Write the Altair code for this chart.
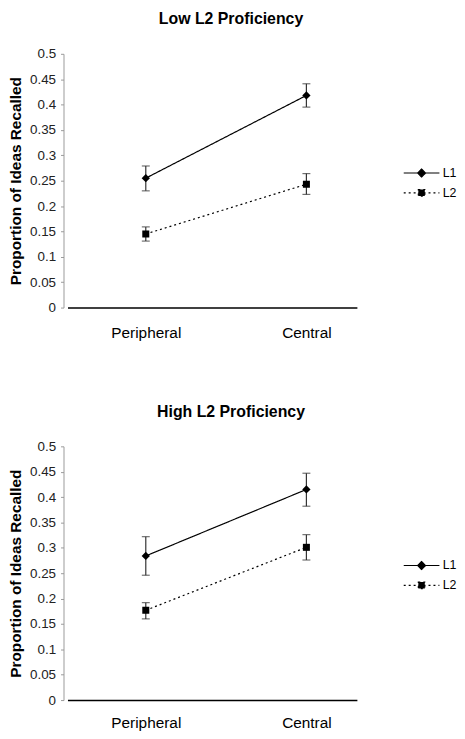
import altair as alt
import pandas as pd

# ---- data ----
categories = ["Peripheral", "Central"]
series = ["L1", "L2"]
panel_titles = ["Low L2 Proficiency", "High L2 Proficiency"]

low_l1_mean = [0.255, 0.418]
low_l1_lo = [0.230, 0.395]
low_l1_hi = [0.279, 0.441]
low_l2_mean = [0.145, 0.243]
low_l2_lo = [0.131, 0.223]
low_l2_hi = [0.159, 0.264]

high_l1_mean = [0.284, 0.415]
high_l1_lo = [0.246, 0.382]
high_l1_hi = [0.322, 0.447]
high_l2_mean = [0.177, 0.301]
high_l2_lo = [0.160, 0.276]
high_l2_hi = [0.192, 0.326]

y_ticks = [0, 0.05, 0.1, 0.15, 0.2, 0.25, 0.3, 0.35, 0.4, 0.45, 0.5]

FONT = "Liberation Sans"


def make_df(l1m, l1lo, l1hi, l2m, l2lo, l2hi):
    rows = []
    for s, m, lo, hi in [("L1", l1m, l1lo, l1hi), ("L2", l2m, l2lo, l2hi)]:
        for i, c in enumerate(categories):
            rows.append({"Location": c, "Series": s, "Mean": m[i], "Lo": lo[i], "Hi": hi[i]})
    return pd.DataFrame(rows)


# legend glyphs: a 36px line with the marker in its middle (unit = 5px at symbolSize 100)
L1_PATH = "M-3.6,0L3.6,0M0,-0.8L0.8,0L0,0.8L-0.8,0Z"
L2_PATH = "M-3.6,0L3.6,0M-0.65,-0.65L0.65,-0.65L0.65,0.65L-0.65,0.65Z"


def panel(df, title, x_label_pad):
    x = alt.X(
        "Location:N",
        sort=categories,
        scale=alt.Scale(type="point", padding=0.401, align=0.608),
        axis=alt.Axis(
            title=None, labelAngle=0, ticks=False, domainColor="black",
            domainWidth=1.5, labelFontSize=15.5, labelPadding=x_label_pad,
            labelColor="black", labelFont=FONT,
        ),
    )
    yaxis = alt.Axis(
        title="Proportion of Ideas Recalled", values=y_ticks, format=".2~f",
        grid=False, domainColor="#9a9a9a", tickColor="#9a9a9a", tickSize=3,
        offset=4, labelPadding=5, labelFontSize=13.5, labelColor="#222",
        labelFont=FONT, titleFont=FONT, titleFontSize=15.5, titleFontWeight="bold",
        titleColor="black", titlePadding=6,
    )
    yscale = alt.Scale(domain=[0, 0.5], nice=False)

    base = alt.Chart(df)
    rules = base.mark_rule(color="#333", strokeWidth=1.2).encode(
        x=x, y=alt.Y("Lo:Q", scale=yscale, axis=yaxis), y2="Hi:Q"
    )
    cap_lo = base.mark_tick(color="#333", size=8, thickness=1.2).encode(
        x=x, y=alt.Y("Lo:Q", scale=yscale, axis=yaxis)
    )
    cap_hi = base.mark_tick(color="#333", size=8, thickness=1.2).encode(
        x=x, y=alt.Y("Hi:Q", scale=yscale, axis=yaxis)
    )
    line = base.mark_line(color="black", strokeWidth=1.2).encode(
        x=x,
        y=alt.Y("Mean:Q", scale=yscale, axis=yaxis),
        strokeDash=alt.StrokeDash(
            "Series:N",
            scale=alt.Scale(domain=series, range=[[1, 0], [2, 3]]),
            legend=alt.Legend(
                title=None, orient="none", legendX=351, legendY=114,
                symbolSize=100, labelFontSize=12.5, labelFont=FONT,
                labelColor="black", labelOffset=15, rowPadding=7,
                symbolType=alt.ExprRef(expr=f"datum.value === 'L1' ? '{L1_PATH}' : '{L2_PATH}'"),
                symbolFillColor="black", symbolStrokeColor="black",
                symbolStrokeWidth=1.2, symbolOpacity=1,
            ),
        ),
        detail="Series:N",
    )
    pts_l1 = base.transform_filter(alt.datum.Series == "L1").mark_point(
        filled=True, color="black", opacity=1, shape="diamond", size=70
    ).encode(x=x, y=alt.Y("Mean:Q", scale=yscale, axis=yaxis))
    pts_l2 = base.transform_filter(alt.datum.Series == "L2").mark_point(
        filled=True, color="black", opacity=1, shape="square", size=50
    ).encode(x=x, y=alt.Y("Mean:Q", scale=yscale, axis=yaxis))
    return alt.layer(rules, cap_lo, cap_hi, line, pts_l1, pts_l2).properties(
        width=292,
        height=256,
        title=alt.TitleParams(
            title, fontSize=16, fontWeight="bold", font=FONT, color="black",
            anchor="middle", frame="group", dx=19, offset=20,
        ),
    )


top = panel(make_df(low_l1_mean, low_l1_lo, low_l1_hi, low_l2_mean, low_l2_lo, low_l2_hi), panel_titles[0], 18)
bottom = panel(make_df(high_l1_mean, high_l1_lo, high_l1_hi, high_l2_mean, high_l2_lo, high_l2_hi), panel_titles[1], 16)

chart = (
    alt.vconcat(top, bottom, spacing=63)
    .resolve_scale(strokeDash="independent")
    .properties(padding={"left": 0, "top": 0, "right": 0, "bottom": 0})
    .configure(font=FONT)
    .configure_view(stroke=None)
)

chart.save("out.html", embed_options={"renderer": "svg", "actions": False})
